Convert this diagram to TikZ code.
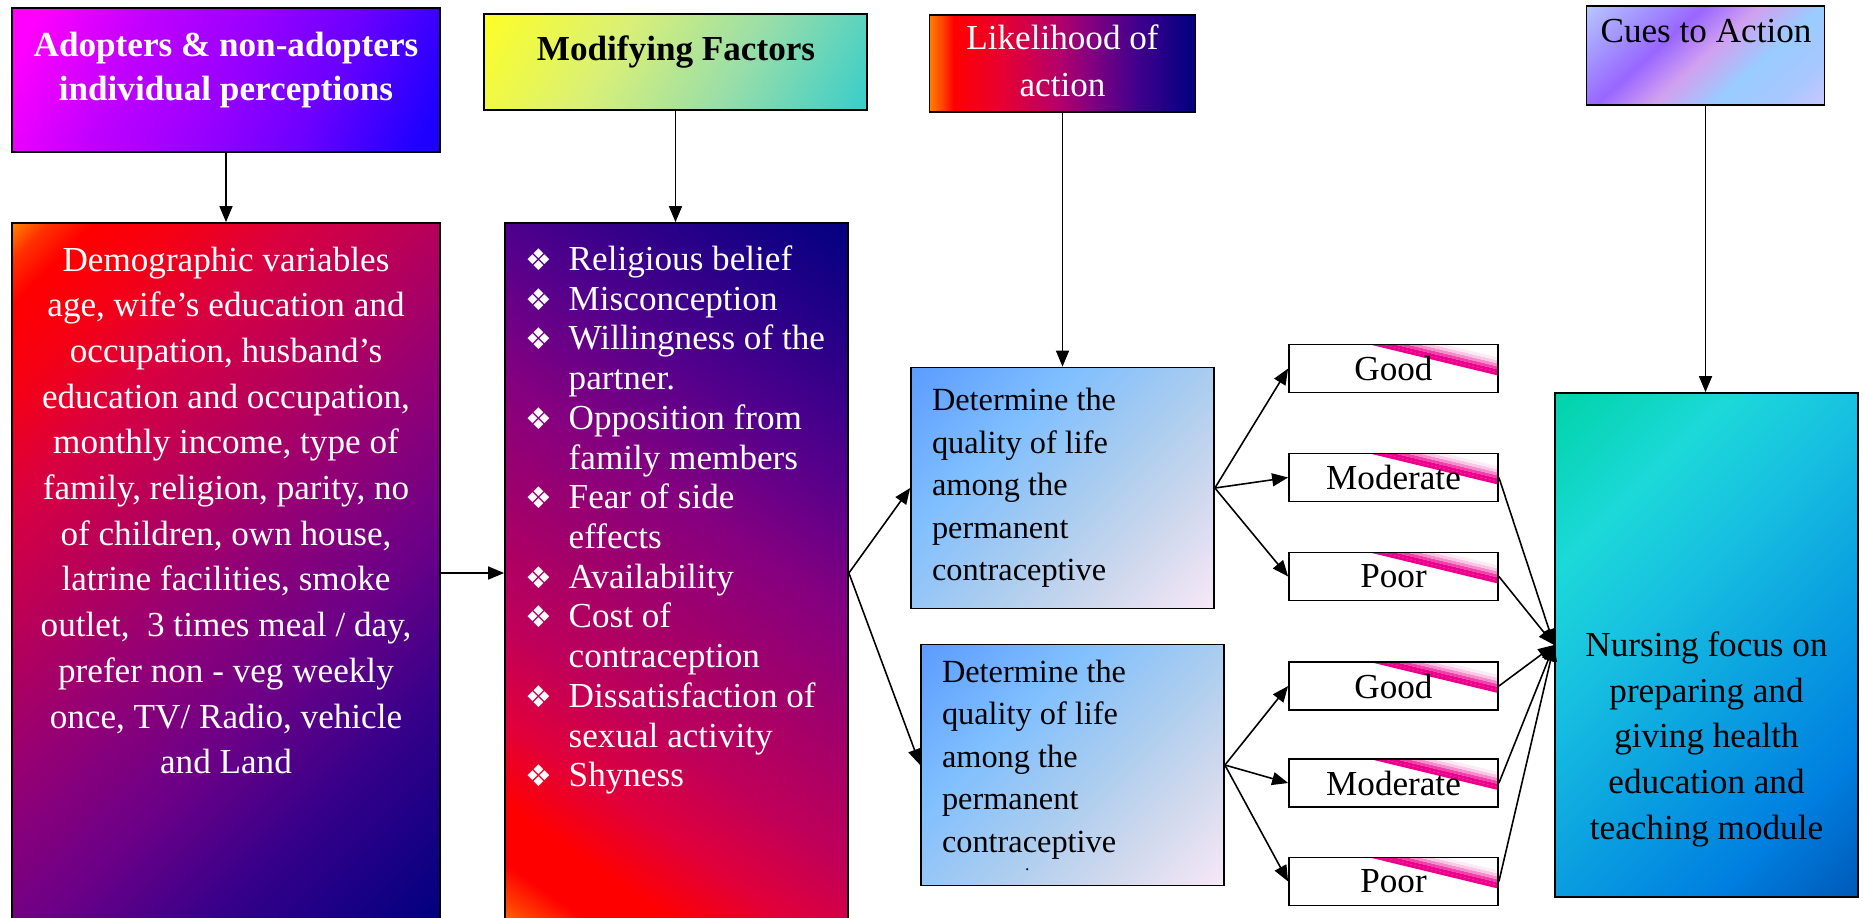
\documentclass[tikz,border=0pt]{standalone}
\usepackage{fontspec}
\setmainfont{Liberation Serif}
\newfontfamily\symfont{DejaVu Sans}
\usepackage{xcolor}
\usepackage{tikz}
\usetikzlibrary{arrows.meta}

\newcommand{\facbul}{\makebox[0.43cm][l]{\symfont\fontsize{8.5}{8}\selectfont ❖}}
\newcommand{\facind}{\hspace*{0.43cm}}

% shadings: the box is mapped onto the middle 50bp of each 100bp shading
\pgfdeclarehorizontalshading{firefill}{100bp}{rgb(0bp)=(1,0.5,0); rgb(14.6bp)=(1,0.5,0); rgb(16.8bp)=(1,0.19,0); rgb(19.6bp)=(1,0,0); rgb(25.3bp)=(0.96,0,0.08); rgb(32.3bp)=(0.85,0,0.25); rgb(40.8bp)=(0.72,0,0.35); rgb(50bp)=(0.58,0,0.46); rgb(60.6bp)=(0.42,0,0.53); rgb(71.2bp)=(0.21,0,0.54); rgb(85.4bp)=(0,0,0.5); rgb(100bp)=(0,0,0.5)}
\pgfdeclarehorizontalshading{facfill}{100bp}{rgb(0bp)=(1,0.5,0); rgb(14.6bp)=(1,0.5,0); rgb(16.8bp)=(1,0.25,0); rgb(19.6bp)=(1,0,0); rgb(23.8bp)=(1,0,0); rgb(30.2bp)=(0.88,0,0.23); rgb(37.3bp)=(0.75,0,0.35); rgb(46.5bp)=(0.63,0,0.42); rgb(55.7bp)=(0.52,0,0.5); rgb(65.6bp)=(0.33,0,0.55); rgb(76.9bp)=(0.13,0,0.53); rgb(85.4bp)=(0,0,0.5); rgb(100bp)=(0,0,0.5)}
\pgfdeclarehorizontalshading{likefill}{100bp}{rgb(0bp)=(1,0.5,0); rgb(25bp)=(1,0.5,0); rgb(27.5bp)=(1,0.25,0); rgb(29.5bp)=(1,0,0); rgb(39bp)=(0.9,0,0.2); rgb(48.5bp)=(0.72,0,0.4); rgb(55bp)=(0.52,0,0.5); rgb(64bp)=(0.25,0,0.55); rgb(75bp)=(0,0,0.5); rgb(100bp)=(0,0,0.5)}
\pgfdeclarehorizontalshading{adopfill}{100bp}{rgb(0bp)=(1,0,1); rgb(20.3bp)=(1,0,1); rgb(35.9bp)=(0.75,0,1); rgb(50bp)=(0.6,0,1); rgb(64.1bp)=(0.42,0,1); rgb(79.7bp)=(0.12,0,1); rgb(100bp)=(0.08,0,1)}
\pgfdeclarehorizontalshading{modffill}{100bp}{rgb(0bp)=(1,1,0.13); rgb(14.6bp)=(1,1,0.13); rgb(39.4bp)=(0.85,0.94,0.47); rgb(60.6bp)=(0.60,0.87,0.66); rgb(85.4bp)=(0.2,0.8,0.8); rgb(100bp)=(0.2,0.8,0.8)}
\pgfdeclarehorizontalshading{cuesfill}{100bp}{rgb(0bp)=(0.72,0.78,1); rgb(14.6bp)=(0.72,0.78,1); rgb(27.4bp)=(0.64,0.58,1); rgb(38.7bp)=(0.6,0.4,1); rgb(50bp)=(0.82,0.63,0.94); rgb(62.7bp)=(0.6,0.8,1); rgb(75.5bp)=(0.66,0.78,1); rgb(85.4bp)=(0.8,0.78,1); rgb(100bp)=(0.8,0.78,1)}
\pgfdeclarehorizontalshading{detfill}{100bp}{rgb(0bp)=(0.36,0.61,1); rgb(14.6bp)=(0.36,0.61,1); rgb(35.9bp)=(0.5,0.75,1); rgb(53.5bp)=(0.66,0.8,0.94); rgb(69.8bp)=(0.82,0.85,0.93); rgb(85.4bp)=(0.97,0.91,0.97); rgb(100bp)=(0.97,0.91,0.97)}
\pgfdeclarehorizontalshading{nursfill}{100bp}{rgb(0bp)=(0,0.83,0.66); rgb(14.6bp)=(0,0.83,0.66); rgb(30.2bp)=(0.11,0.85,0.85); rgb(42.9bp)=(0.09,0.75,0.88); rgb(60.6bp)=(0.03,0.6,0.88); rgb(72.6bp)=(0,0.5,0.88); rgb(85.4bp)=(0,0.35,0.72); rgb(100bp)=(0,0.35,0.72)}

\begin{document}
\begin{tikzpicture}
[box/.style={rectangle,draw=black,line width=0.5pt,inner sep=0pt},
hdra/.style={box,shade,shading=adopfill,shading angle=-25,minimum width=4.28cm,minimum height=1.44cm},
hdrm/.style={box,shade,shading=modffill,shading angle=-30,minimum width=3.83cm,minimum height=0.96cm},
hdrl/.style={box,shade,shading=likefill,minimum width=2.66cm,minimum height=0.97cm},
hdrc/.style={box,shade,shading=cuesfill,shading angle=-48,minimum width=2.38cm,minimum height=0.99cm},
demb/.style={box,shade,shading=firefill,shading angle=-45,minimum width=4.28cm,minimum height=7cm},
facb/.style={box,shade,shading=facfill,shading angle=55,minimum width=3.43cm,minimum height=7cm},
detb/.style={box,shade,shading=detfill,shading angle=-45,minimum width=3.03cm,minimum height=2.41cm,text width=2.61cm,inner xsep=0.21cm,align=flush left,font=\fontsize{9.2}{12.1}\selectfont},
ratb/.style={box,fill=white,minimum width=2.09cm,minimum height=0.48cm,font=\fontsize{10}{12}\selectfont,
  path picture={\foreach \yo/\tint in {0.068/100,0.098/100,0.128/75,0.158/45,0.188/22,0.218/8}
    \draw [line width=0.3mm,magenta!\tint] (path picture bounding box.north east) ++(-1.5,\yo) -- ++(1.7,-0.411);}},
nurb/.style={box,shade,shading=nursfill,shading angle=-45,minimum width=3.03cm,minimum height=5.04cm},
wtxt/.style={text=white,align=center,inner sep=0pt,font=\fontsize{10}{13}\selectfont},
btxt/.style={text=black,align=center,inner sep=0pt,font=\fontsize{10}{13}\selectfont},
conn/.style={-{Triangle[length=1.6mm,width=1.3mm]},line width=0.45pt}]

\useasboundingbox (0,0) rectangle (18.63,-9.17);

% headings
\node at (2.26,-0.80)    [hdra] (adop) {};
\node at (6.755,-0.62)   [hdrm] (mfac) {};
\node at (10.625,-0.635) [hdrl] (lkhd) {};
\node at (17.055,-0.555) [hdrc] (cta)  {};
\node at (2.26,-0.31)  [wtxt,anchor=north,font=\bfseries\fontsize{10}{12.5}\selectfont] (adopt) {Adopters \& non-adopters\\individual perceptions};
\node at (6.76,-0.35)  [btxt,anchor=north,font=\bfseries\fontsize{10}{13}\selectfont] (mfact) {Modifying Factors};
\node at (10.625,-0.24) [wtxt,anchor=north,font=\fontsize{10}{13.3}\selectfont] (lkhdt) {Likelihood of\\action};
\node at (17.06,-0.19) [btxt,anchor=north] (ctat) {Cues to Action};

% main boxes
\node at (2.26,-5.73)  [demb] (dem) {};
\node at (6.765,-5.73) [facb] (fac) {};
\node at (2.26,-2.46)  [wtxt,anchor=north] (demt) {Demographic variables\\age, wife’s education and\\occupation, husband’s\\education and occupation,\\monthly income, type of\\family, religion, parity, no\\of children, own house,\\latrine facilities, smoke\\outlet,~ 3 times meal / day,\\prefer non - veg weekly\\once, TV/ Radio, vehicle\\and Land};
\node at (5.25,-2.45)  [wtxt,anchor=north west,align=left,font=\fontsize{10}{11.3}\selectfont] (fact) {\facbul Religious belief\\\facbul Misconception\\\facbul Willingness of the\\\facind partner.\\\facbul Opposition from\\\facind family members\\\facbul Fear of side\\\facind effects\\\facbul Availability\\\facbul Cost of\\\facind contraception\\\facbul Dissatisfaction of\\\facind sexual activity\\\facbul Shyness};

\node at (10.625,-4.88) [detb] (q1) {Determine the\\quality of life\\among the\\permanent\\contraceptive};
\node at (10.725,-7.65) [detb] (q2) {Determine the\\quality of life\\among the\\permanent\\contraceptive\\[-7pt]\hspace*{0.83cm}{\tiny .}};

\node at (13.935,-3.685) [ratb] (g1) {Good};
\node at (13.935,-4.775) [ratb] (m1) {Moderate};
\node at (13.935,-5.765) [ratb] (p1) {Poor};
\node at (13.935,-6.86)  [ratb] (g2) {Good};
\node at (13.935,-7.83)  [ratb] (m2) {Moderate};
\node at (13.935,-8.815) [ratb] (p2) {Poor};

\node at (17.065,-6.45) [nurb] (nf) {};
\node at (17.065,-6.31) [btxt,anchor=north] (nft) {Nursing focus on\\preparing and\\giving health\\education and\\teaching module};

% connectors
\draw [conn] (adop.south) -- (dem.north);
\draw [conn] (mfac.south) -- (mfac.south |- fac.north);
\draw [conn] (lkhd.south) -- (q1.north);
\draw [conn] (cta.south) -- (cta.south |- nf.north);
\draw [conn] (dem.east) -- (fac.west);
\draw [conn] (fac.east) -- (q1.west);
\draw [conn] (fac.east) -- (q2.west);
\draw [conn] (q1.east) -- (g1.west);
\draw [conn] (q1.east) -- (m1.west);
\draw [conn] (q1.east) -- (p1.west);
\draw [conn] (q2.east) -- (g2.west);
\draw [conn] (q2.east) -- (m2.west);
\draw [conn] (q2.east) -- (p2.west);
\draw [conn] (m1.east) -- (nf.west);
\draw [conn] (p1.east) -- (nf.west);
\draw [conn] (g2.east) -- (nf.west);
\draw [conn] (m2.east) -- (nf.west);
\draw [conn] (p2.east) -- (nf.west);
\end{tikzpicture}
\end{document}
